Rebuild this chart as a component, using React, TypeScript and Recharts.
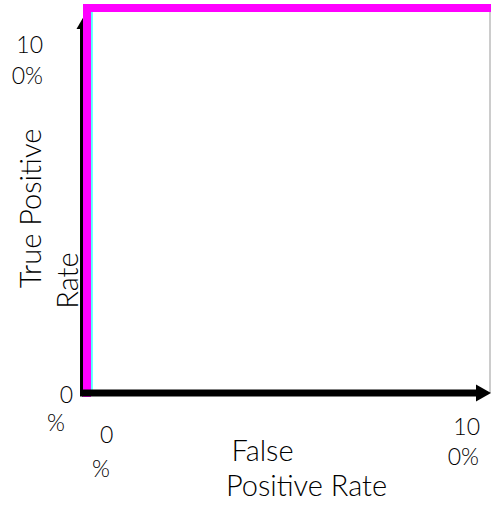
import React from "react"
import { LineChart, Line, XAxis, YAxis, ReferenceLine } from "recharts"

// ROC curve of a perfect classifier
const fprValues = [0, 0, 100]
const tprValues = [0, 100, 100]

// faint guide just right of the vertical leg
const guideFpr = [1.2, 1.2]
const guideTpr = [0, 100]

const xTicks = [0, 100]
const xTickLabels = [["0", "%"], ["10", "0%"]]
const yTicks = [0, 100]
const yTickLabels = [["0", "%"], ["10", "0%"]]

const xTitle = ["False", "Positive Rate"]
const yTitle = ["True Positive", "Rate"]

const rocData = fprValues.map((fpr, i) => ({ fpr, tpr: tprValues[i] }))
const guideData = guideFpr.map((fpr, i) => ({ fpr, tpr: guideTpr[i] }))

const FONT = "Lato, 'Open Sans', sans-serif"
const TEXT = "#000"

function XTick({ x, y, payload }: any) {
  const i = xTicks.indexOf(payload.value)
  const lines = xTickLabels[i]
  if (i === 0) {
    return (
      <g fontFamily={FONT} fontSize={23} fontWeight={300} fill={TEXT}>
        <text x={x + 13} y={y + 50} textAnchor="start">{lines[0]}</text>
        <text x={x + 5} y={y + 84} textAnchor="start">{lines[1]}</text>
      </g>
    )
  }
  return (
    <g fontFamily={FONT} fontSize={23} fontWeight={300} fill={TEXT}>
      <text x={x + 1} y={y + 42} textAnchor="end">{lines[0]}</text>
      <text x={x} y={y + 72} textAnchor="end">{lines[1]}</text>
    </g>
  )
}

function YTick({ x, y, payload }: any) {
  const i = yTicks.indexOf(payload.value)
  const lines = yTickLabels[i]
  if (i === 0) {
    return (
      <g fontFamily={FONT} fontSize={23} fontWeight={300} fill={TEXT}>
        <text x={x - 14} y={y + 10} textAnchor="end">{lines[0]}</text>
        <text x={x - 22} y={y + 38} textAnchor="end">{lines[1]}</text>
      </g>
    )
  }
  return (
    <g fontFamily={FONT} fontSize={23} fontWeight={300} fill={TEXT}>
      <text x={x - 44} y={y + 44} textAnchor="end">{lines[0]}</text>
      <text x={x - 44} y={y + 75} textAnchor="end">{lines[1]}</text>
    </g>
  )
}

function XTitle({ viewBox }: any) {
  const cx = viewBox.x + viewBox.width / 2
  return (
    <g fontFamily={FONT} fontSize={29} fontWeight={300} fill={TEXT}>
      <text x={cx - 26} y={viewBox.y + 56} textAnchor="middle" dominantBaseline="central">{xTitle[0]}</text>
      <text x={cx + 18} y={viewBox.y + 91} textAnchor="middle" dominantBaseline="central">{xTitle[1]}</text>
    </g>
  )
}

function YTitle({ viewBox }: any) {
  const cy = viewBox.y + viewBox.height / 2
  return (
    <g fontFamily={FONT} fontSize={29} fontWeight={300} fill={TEXT}>
      <text x={29} y={cy + 8} textAnchor="middle" dominantBaseline="central" transform={`rotate(-90 29 ${cy + 8})`}>
        {yTitle[0]}
      </text>
      <text x={66} y={cy + 80} textAnchor="middle" dominantBaseline="central" transform={`rotate(-90 66 ${cy + 80})`}>
        {yTitle[1]}
      </text>
    </g>
  )
}

const xArrow = ({ x1, y1, x2, y2 }: any) => (
  <g>
    <line x1={x1 - 5} y1={y1} x2={x2 - 12} y2={y2} stroke="#000" strokeWidth={7} />
    <polygon points={`${x2 - 14},${y2 - 8.5} ${x2 + 1},${y2} ${x2 - 14},${y2 + 8.5}`} fill="#000" />
  </g>
)

const yArrow = ({ x1, y1, x2, y2 }: any) => (
  <g>
    <line x1={x1 - 3.5} y1={y1 + 3.5} x2={x2 - 3.5} y2={y2 + 20} stroke="#000" strokeWidth={7} />
    <polygon points={`${x2 - 10.5},${y2 + 21} ${x2 - 3},${y2 + 8} ${x2 + 3.5},${y2 + 21}`} fill="#000" />
  </g>
)

export default function App() {
  return (
    <div style={{ position: "absolute", left: 0, top: 0, width: 491, height: 506, background: "#fff" }}>
      <LineChart width={491} height={506} margin={{ top: 8, right: 1, bottom: 0, left: 0 }}>
        <XAxis
          type="number"
          dataKey="fpr"
          domain={[0, 100]}
          ticks={xTicks}
          height={113}
          axisLine={false}
          tickLine={false}
          tickSize={0}
          tickMargin={0}
          tick={<XTick />}
          label={<XTitle />}
        />
        <YAxis
          type="number"
          dataKey="tpr"
          domain={[0, 100]}
          ticks={yTicks}
          width={87}
          axisLine={false}
          tickLine={false}
          tickSize={0}
          tickMargin={0}
          tick={<YTick />}
          label={<YTitle />}
        />
        <ReferenceLine x={100} stroke="#999" strokeWidth={1} />
        <ReferenceLine segment={[{ x: 0, y: 0 }, { x: 0, y: 100 }]} shape={yArrow} />
        <Line
          data={guideData}
          dataKey="tpr"
          type="linear"
          stroke="#55ffff"
          strokeWidth={2}
          dot={false}
          isAnimationActive={false}
        />
        <Line
          data={rocData}
          dataKey="tpr"
          type="linear"
          stroke="#ff00ff"
          strokeWidth={8}
          strokeLinejoin="miter"
          strokeLinecap="square"
          dot={false}
          isAnimationActive={false}
        />
        <ReferenceLine segment={[{ x: 0, y: 0 }, { x: 100, y: 0 }]} shape={xArrow} />
      </LineChart>
    </div>
  )
}
